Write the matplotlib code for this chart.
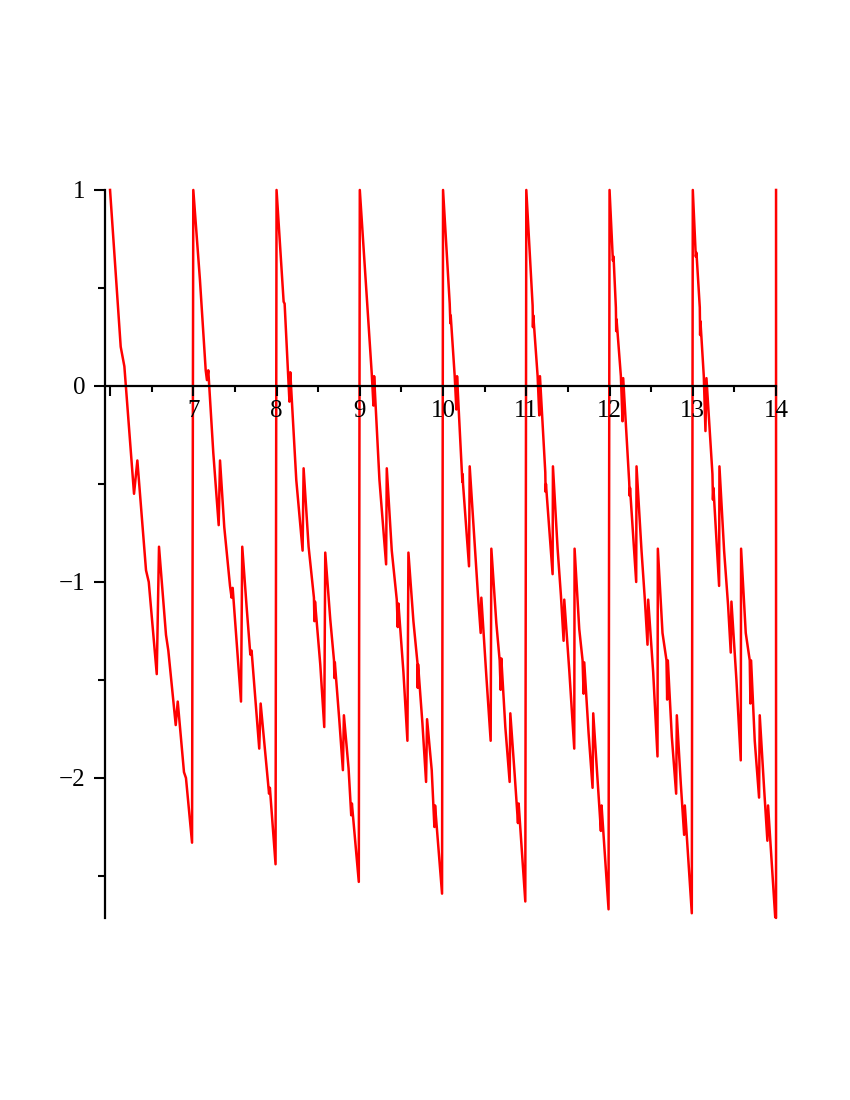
import numpy as np
import matplotlib.pyplot as plt

# vertices, one list pair per unit interval
x6 = [6.000, 6.128, 6.172, 6.288, 6.328, 6.432, 6.465, 6.561, 6.588, 6.672, 6.700,
      6.789, 6.813, 6.888, 6.912, 6.985]
y6 = [1.00, 0.20, 0.10, -0.55, -0.38, -0.94, -1.00, -1.47, -0.82, -1.27, -1.35,
      -1.73, -1.61, -1.97, -2.00, -2.33]

x7 = [7.000, 7.080, 7.149, 7.164, 7.180, 7.240, 7.305, 7.321, 7.372, 7.441, 7.460,
      7.473, 7.573, 7.588, 7.641, 7.685, 7.700, 7.792, 7.809, 7.900, 7.910, 7.920, 7.988]
y7 = [1.00, 0.54, 0.08, 0.03, 0.08, -0.34, -0.71, -0.38, -0.72, -1.02, -1.08,
      -1.03, -1.61, -0.82, -1.13, -1.37, -1.35, -1.85, -1.62, -2.04, -2.08, -2.05, -2.44]

x8 = [8.000, 8.085, 8.097, 8.140, 8.155, 8.165, 8.237, 8.313, 8.325, 8.385, 8.449,
      8.455, 8.462, 8.525, 8.573, 8.585, 8.645, 8.690, 8.695, 8.700, 8.753, 8.797,
      8.809, 8.865, 8.897, 8.905, 8.988]
y8 = [1.00, 0.43, 0.42, 0.05, -0.08, 0.07, -0.48, -0.84, -0.42, -0.82, -1.08,
      -1.20, -1.10, -1.42, -1.74, -0.85, -1.19, -1.40, -1.49, -1.41, -1.70, -1.96,
      -1.68, -1.95, -2.19, -2.13, -2.53]

x9 = [9.000, 9.088, 9.092, 9.144, 9.164, 9.172, 9.236, 9.316, 9.324, 9.384, 9.444,
      9.456, 9.464, 9.524, 9.572, 9.584, 9.644, 9.692, 9.696, 9.700, 9.752, 9.796,
      9.808, 9.864, 9.896, 9.904, 9.988]
y9 = [1.00, 0.42, 0.40, 0.06, -0.10, 0.05, -0.48, -0.91, -0.42, -0.84, -1.09,
      -1.23, -1.11, -1.46, -1.81, -0.85, -1.20, -1.41, -1.54, -1.42, -1.72, -2.02,
      -1.70, -1.96, -2.25, -2.14, -2.59]

x10 = [10.000, 10.080, 10.088, 10.092, 10.140, 10.160, 10.168, 10.232, 10.236, 10.240,
       10.312, 10.320, 10.380, 10.420, 10.452, 10.460, 10.520, 10.572, 10.580, 10.640,
       10.680, 10.692, 10.700, 10.748, 10.800, 10.808, 10.860, 10.900, 10.908, 10.988]
y10 = [1.00, 0.42, 0.32, 0.36, 0.05, -0.12, 0.05, -0.49, -0.45, -0.50,
       -0.92, -0.41, -0.81, -1.07, -1.26, -1.08, -1.48, -1.81, -0.83, -1.21,
       -1.40, -1.55, -1.39, -1.74, -2.02, -1.67, -1.98, -2.23, -2.13, -2.63]

x11 = [11.000, 11.076, 11.080, 11.084, 11.136, 11.156, 11.164, 11.228, 11.232, 11.236,
       11.316, 11.320, 11.376, 11.416, 11.448, 11.456, 11.516, 11.576, 11.580, 11.636,
       11.676, 11.688, 11.696, 11.748, 11.796, 11.804, 11.856, 11.896, 11.904, 11.988]
y11 = [1.00, 0.41, 0.30, 0.36, 0.05, -0.15, 0.05, -0.44, -0.54, -0.50,
       -0.96, -0.41, -0.83, -1.07, -1.30, -1.09, -1.45, -1.85, -0.83, -1.24,
       -1.40, -1.57, -1.41, -1.77, -2.05, -1.67, -2.01, -2.27, -2.14, -2.67]

x12 = [12.000, 12.040, 12.048, 12.076, 12.080, 12.084, 12.136, 12.156, 12.164, 12.236,
       12.242, 12.246, 12.320, 12.324, 12.384, 12.424, 12.456, 12.464, 12.524, 12.576,
       12.580, 12.636, 12.684, 12.692, 12.700, 12.748, 12.800, 12.808, 12.856, 12.896,
       12.904, 12.988]
y12 = [1.00, 0.64, 0.66, 0.40, 0.28, 0.34, 0.05, -0.18, 0.04, -0.49,
       -0.56, -0.52, -1.00, -0.41, -0.84, -1.09, -1.32, -1.09, -1.46, -1.89,
       -0.83, -1.26, -1.40, -1.60, -1.40, -1.79, -2.08, -1.68, -2.03, -2.29,
       -2.14, -2.69]

x13 = [13.000, 13.036, 13.044, 13.084, 13.088, 13.092, 13.132, 13.152, 13.164, 13.236,
       13.242, 13.248, 13.316, 13.320, 13.376, 13.424, 13.456, 13.464, 13.524, 13.576,
       13.580, 13.636, 13.684, 13.692, 13.700, 13.744, 13.796, 13.804, 13.856, 13.896,
       13.904, 13.990, 14.000, 14.000]
y13 = [1.00, 0.66, 0.68, 0.40, 0.26, 0.33, 0.05, -0.23, 0.04, -0.45,
       -0.58, -0.52, -1.02, -0.41, -0.84, -1.12, -1.36, -1.10, -1.50, -1.91,
       -0.83, -1.26, -1.40, -1.62, -1.40, -1.81, -2.10, -1.68, -2.05, -2.32,
       -2.14, -2.71, -2.714, 1.00]

xticks_major = [6, 7, 8, 9, 10, 11, 12, 13, 14]
xtick_labels = ['', '7', '8', '9', '10', '11', '12', '13', '14']
xticks_minor = [6.5, 7.5, 8.5, 9.5, 10.5, 11.5, 12.5, 13.5]
yticks_major = [1, 0, -1, -2]
ytick_labels = ['1', '0', '\u22121', '\u22122']
yticks_minor = [0.5, -0.5, -1.5, -2.5]

xs = np.concatenate([x6, x7, x8, x9, x10, x11, x12, x13])
ys = np.concatenate([y6, y7, y8, y9, y10, y11, y12, y13])

plt.rcParams['font.family'] = ['Liberation Serif', 'DejaVu Serif']

fig = plt.figure(figsize=(8.5, 11), dpi=100)
ax = fig.add_axes([0.1232, 0.1655, 0.7898, 0.6618])

ax.plot(xs, ys, color='#ff0000', lw=1.8, clip_on=False, zorder=1)

ax.set_xlim(5.936, 14.0)
ax.set_ylim(-2.714, 1.0)

# maple style axes: y axis on the left edge, x axis through zero
ax.spines['top'].set_visible(False)
ax.spines['right'].set_visible(False)
ax.spines['bottom'].set_position(('data', 0))
for s in ['left', 'bottom']:
    ax.spines[s].set_linewidth(1.6)
    ax.spines[s].set_zorder(3)

ax.set_xticks(xticks_major)
ax.set_xticklabels(xtick_labels)
ax.set_xticks(xticks_minor, minor=True)
ax.set_yticks(yticks_major)
ax.set_yticklabels(ytick_labels)
ax.set_yticks(yticks_minor, minor=True)

ax.tick_params(axis='x', which='major', direction='out', length=7, width=1.5,
               pad=3, labelsize=18)
ax.tick_params(axis='x', which='minor', direction='out', length=4, width=1.5)
ax.tick_params(axis='y', which='major', direction='out', length=8, width=1.5,
               pad=6, labelsize=18)
ax.tick_params(axis='y', which='minor', direction='out', length=5, width=1.5)

fig.savefig('out.png', dpi=100)
